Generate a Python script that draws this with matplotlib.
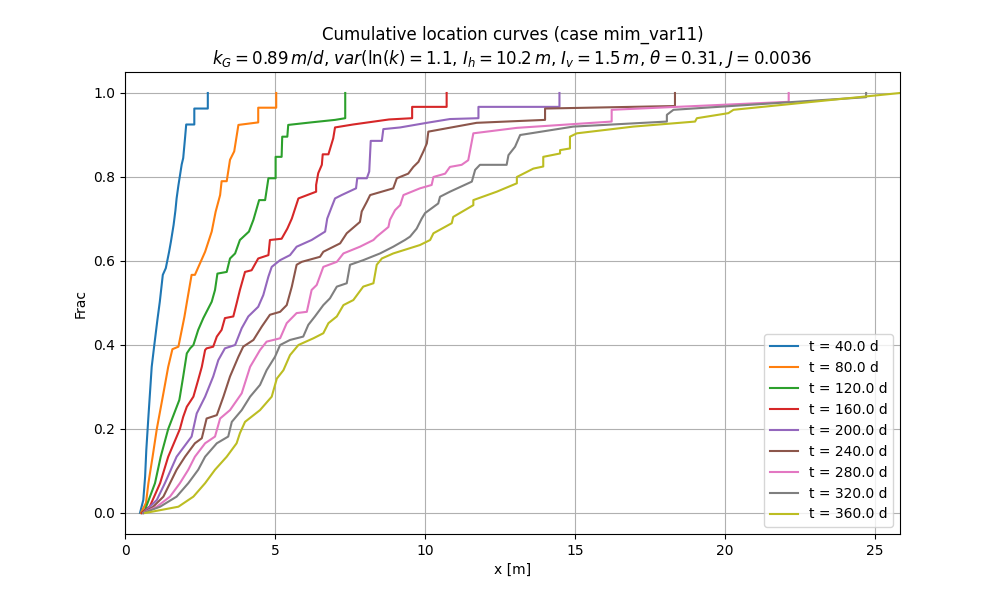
import matplotlib
matplotlib.use("Agg")
import matplotlib.pyplot as plt

# times of the snapshots [d]
times = [40.0, 80.0, 120.0, 160.0, 200.0, 240.0, 280.0, 320.0, 360.0]

# cumulative location curves: (x [m], frac)
x_40 = [0.5, 0.61, 0.67, 0.71, 0.78, 0.89, 0.97, 1.08, 1.16, 1.26, 1.36, 1.47, 1.53, 1.62,
        1.68, 1.72, 1.78, 1.89, 1.94, 2.0, 2.04, 2.31, 2.31, 2.76, 2.76]
f_40 = [0.0, 0.031, 0.086, 0.15, 0.229, 0.348, 0.396, 0.46, 0.503, 0.567, 0.583, 0.622, 0.646, 0.686,
        0.72, 0.749, 0.78, 0.83, 0.845, 0.892, 0.925, 0.925, 0.963, 0.963, 1.0]

x_80 = [0.53, 0.7, 0.78, 0.92, 1.06, 1.3, 1.44, 1.58, 1.78, 1.98, 2.07, 2.22, 2.33, 2.67, 2.89,
        3.02, 3.17, 3.22, 3.39, 3.5, 3.64, 3.78, 4.44, 4.44, 5.04, 5.04]
f_80 = [0.0, 0.024, 0.071, 0.134, 0.2, 0.293, 0.348, 0.39, 0.396, 0.467, 0.505, 0.567, 0.567, 0.622, 0.67,
        0.717, 0.757, 0.79, 0.79, 0.841, 0.861, 0.924, 0.93, 0.965, 0.965, 1.0]

x_120 = [0.56, 0.67, 1.0, 1.19, 1.44, 1.81, 1.83, 1.94, 2.06, 2.17, 2.28, 2.44, 2.61, 2.89, 3.0,
         3.08, 3.39, 3.5, 3.67, 3.83, 4.13, 4.28, 4.47, 4.67, 4.78, 5.02, 5.02, 5.22, 5.24, 5.41,
         5.44, 6.2, 7.0, 7.34, 7.34]
f_120 = [0.0, 0.008, 0.071, 0.134, 0.2, 0.269, 0.277, 0.325, 0.38, 0.392, 0.4, 0.436, 0.464, 0.503, 0.531,
         0.57, 0.574, 0.606, 0.618, 0.65, 0.67, 0.698, 0.745, 0.745, 0.797, 0.797, 0.848, 0.848, 0.896, 0.896,
         0.924, 0.93, 0.936, 0.94, 1.0]

x_160 = [0.56, 0.83, 1.17, 1.44, 1.83, 1.94, 2.06, 2.28, 2.44, 2.56, 2.67, 2.72, 2.94, 3.06, 3.22,
         3.33, 3.61, 3.72, 3.83, 4.0, 4.22, 4.44, 4.78, 4.83, 5.22, 5.41, 5.56, 5.67, 5.78, 6.37,
         6.37, 6.44, 6.56, 6.59, 6.78, 6.94, 7.0, 7.6, 8.8, 9.57, 9.57, 10.72, 10.72]
f_160 = [0.0, 0.016, 0.071, 0.134, 0.2, 0.229, 0.253, 0.277, 0.317, 0.348, 0.388, 0.392, 0.396, 0.42, 0.436,
         0.464, 0.468, 0.499, 0.531, 0.574, 0.578, 0.606, 0.614, 0.65, 0.653, 0.677, 0.701, 0.725, 0.749, 0.765,
         0.781, 0.809, 0.829, 0.854, 0.854, 0.892, 0.918, 0.925, 0.937, 0.94, 0.967, 0.967, 1.0]

x_200 = [0.61, 1.06, 1.33, 1.72, 2.22, 2.39, 2.67, 2.94, 3.11, 3.33, 3.67, 3.89, 4.11, 4.44, 4.61,
         4.78, 4.89, 5.17, 5.5, 5.72, 6.22, 6.67, 6.74, 6.89, 7.0, 7.22, 7.7, 7.74, 8.06, 8.14,
         8.19, 8.56, 8.61, 9.17, 10.06, 10.83, 11.78, 11.78, 14.48, 14.48]
f_200 = [0.0, 0.031, 0.071, 0.134, 0.182, 0.237, 0.277, 0.325, 0.364, 0.392, 0.4, 0.44, 0.468, 0.491, 0.519,
         0.563, 0.586, 0.602, 0.614, 0.634, 0.65, 0.67, 0.701, 0.729, 0.749, 0.757, 0.773, 0.797, 0.797, 0.813,
         0.886, 0.886, 0.914, 0.918, 0.929, 0.938, 0.94, 0.967, 0.967, 1.0]

x_240 = [0.61, 0.94, 1.28, 1.5, 1.72, 2.0, 2.33, 2.56, 2.72, 3.06, 3.28, 3.5, 3.78, 3.94, 4.28,
         4.56, 4.83, 5.17, 5.39, 5.56, 5.72, 5.89, 6.5, 6.61, 7.17, 7.39, 7.83, 7.89, 8.06, 8.17,
         8.94, 9.06, 9.44, 9.61, 9.78, 9.94, 10.06, 10.11, 11.72, 14.0, 14.0, 18.33, 18.33]
f_240 = [0.0, 0.015, 0.039, 0.071, 0.103, 0.134, 0.166, 0.178, 0.225, 0.233, 0.277, 0.325, 0.372, 0.396, 0.412,
         0.444, 0.472, 0.479, 0.495, 0.539, 0.591, 0.598, 0.61, 0.622, 0.642, 0.666, 0.693, 0.718, 0.741, 0.757,
         0.773, 0.797, 0.808, 0.824, 0.836, 0.86, 0.88, 0.908, 0.929, 0.936, 0.963, 0.969, 1.0]

x_280 = [0.61, 1.06, 1.5, 1.83, 2.11, 2.33, 2.67, 3.0, 3.17, 3.5, 3.89, 4.17, 4.5, 4.72, 5.17,
         5.39, 5.72, 6.06, 6.22, 6.39, 6.61, 7.06, 7.28, 7.83, 8.28, 8.39, 8.78, 8.83, 9.0, 9.17,
         9.28, 9.83, 10.22, 10.28, 10.67, 10.83, 11.22, 11.44, 11.61, 13.06, 16.22, 16.22, 22.12, 22.12]
f_280 = [0.0, 0.015, 0.039, 0.071, 0.103, 0.134, 0.166, 0.182, 0.225, 0.245, 0.285, 0.348, 0.388, 0.408, 0.416,
         0.452, 0.476, 0.479, 0.531, 0.543, 0.586, 0.598, 0.618, 0.634, 0.65, 0.658, 0.681, 0.698, 0.721, 0.733,
         0.757, 0.773, 0.781, 0.8, 0.808, 0.824, 0.829, 0.84, 0.904, 0.917, 0.932, 0.96, 0.979, 1.0]

x_320 = [0.61, 1.17, 1.72, 2.11, 2.44, 2.67, 3.06, 3.44, 3.56, 3.89, 4.17, 4.5, 4.72, 5.0, 5.17,
         5.5, 5.94, 6.11, 6.33, 6.61, 6.83, 7.06, 7.39, 7.5, 7.94, 8.5, 8.94, 9.33, 9.5, 9.72,
         9.89, 10.0, 10.44, 10.5, 10.83, 11.56, 11.67, 11.83, 12.72, 12.78, 13.0, 13.17, 14.94, 18.06,
         18.06, 18.28, 24.7, 24.7]
f_320 = [0.0, 0.015, 0.039, 0.071, 0.103, 0.134, 0.166, 0.182, 0.217, 0.245, 0.277, 0.305, 0.34, 0.372, 0.4,
         0.412, 0.42, 0.448, 0.468, 0.495, 0.511, 0.539, 0.547, 0.591, 0.602, 0.618, 0.634, 0.65, 0.658, 0.677,
         0.701, 0.714, 0.737, 0.753, 0.765, 0.789, 0.817, 0.829, 0.829, 0.852, 0.872, 0.9, 0.92, 0.932,
         0.948, 0.96, 0.99, 1.0]

x_360 = [0.67, 1.78, 2.28, 2.67, 3.0, 3.39, 3.72, 3.83, 4.0, 4.5, 4.89, 5.06, 5.28, 5.5, 5.78,
         6.28, 6.61, 6.78, 7.06, 7.28, 7.61, 7.94, 8.28, 8.39, 8.56, 8.94, 9.83, 10.17, 10.28, 10.89,
         10.94, 11.61, 11.61, 12.39, 13.06, 13.06, 13.61, 13.94, 13.94, 14.5, 14.5, 14.83, 14.83, 15.06,
         16.94, 19.0, 19.06, 20.11, 20.28, 25.83]
f_360 = [0.0, 0.015, 0.039, 0.071, 0.103, 0.134, 0.166, 0.19, 0.217, 0.245, 0.277, 0.32, 0.34, 0.376, 0.4,
         0.416, 0.428, 0.452, 0.468, 0.495, 0.507, 0.539, 0.547, 0.591, 0.606, 0.618, 0.638, 0.65, 0.666, 0.69,
         0.705, 0.733, 0.745, 0.765, 0.785, 0.8, 0.82, 0.825, 0.848, 0.856, 0.864, 0.868, 0.896, 0.904,
         0.92, 0.932, 0.94, 0.952, 0.96, 1.0]

curves = [(x_40, f_40), (x_80, f_80), (x_120, f_120), (x_160, f_160), (x_200, f_200),
          (x_240, f_240), (x_280, f_280), (x_320, f_320), (x_360, f_360)]

fig, ax = plt.subplots(figsize=(10, 6), dpi=100)

for t, (xs, fs) in zip(times, curves):
    ax.plot(xs, fs, label=f"t = {t} d")

ax.set_xlim(0, max(x_360))
ax.grid(True)
ax.set_xlabel("x [m]")
ax.set_ylabel("Frac")
ax.set_title("Cumulative location curves (case mim_var11)\n"
             r"$k_G = 0.89\,m/d$, $var(\ln(k) = 1.1$, $I_h = 10.2\,m$, "
             r"$I_v = 1.5\,m$, $\theta = 0.31$, $J = 0.0036$")
ax.legend(loc="lower right")

fig.savefig("out.png")
